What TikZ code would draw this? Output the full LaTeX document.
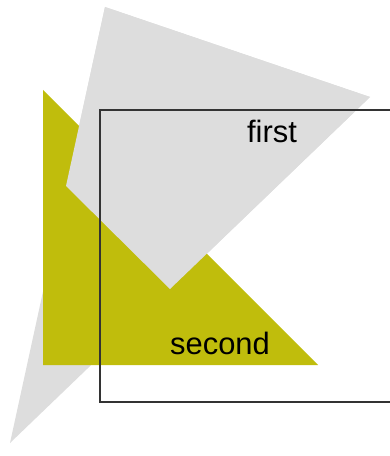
\documentclass[tikz,border=0pt]{standalone}
\usepackage{fontspec}
\setmainfont{Liberation Sans}
\usetikzlibrary{calc}
\definecolor{sheetgray}{RGB}{221,221,221}
\definecolor{sheetyellow}{RGB}{192,189,12}
\definecolor{framegray}{RGB}{51,51,51}

\begin{document}
\begin{tikzpicture}[x=1bp, y=-1bp, label/.style={font=\fontsize{31}{37}\selectfont, inner sep=0pt, anchor=base}]
    \useasboundingbox (0,0) rectangle (389,456);
    \coordinate (G1) at (105,7); \coordinate (G2) at (370,97); \coordinate (G3) at (10,443);
    \coordinate (Y1) at (43,90); \coordinate (Y2) at (318,365); \coordinate (Y3) at (43,365);
    \coordinate (K1) at (66,186); \coordinate (K2) at (170,289);
    \fill[sheetgray] (G1)--(G2)--(G3)--cycle;
    \fill[sheetyellow] (Y1)--(Y2)--(Y3)--cycle;
    \fill[sheetgray] (G1)--(G2)--(K2)--(K1)--cycle;
    \coordinate (R1) at (100,110); \coordinate (R2) at (393,402);
    \draw[framegray, line width=1.5bp] (R1) rectangle (R2);
    \node[label] (first) at (272,143) {first};
    \node[label] (second) at (220,354) {second};
\end{tikzpicture}
\end{document}
